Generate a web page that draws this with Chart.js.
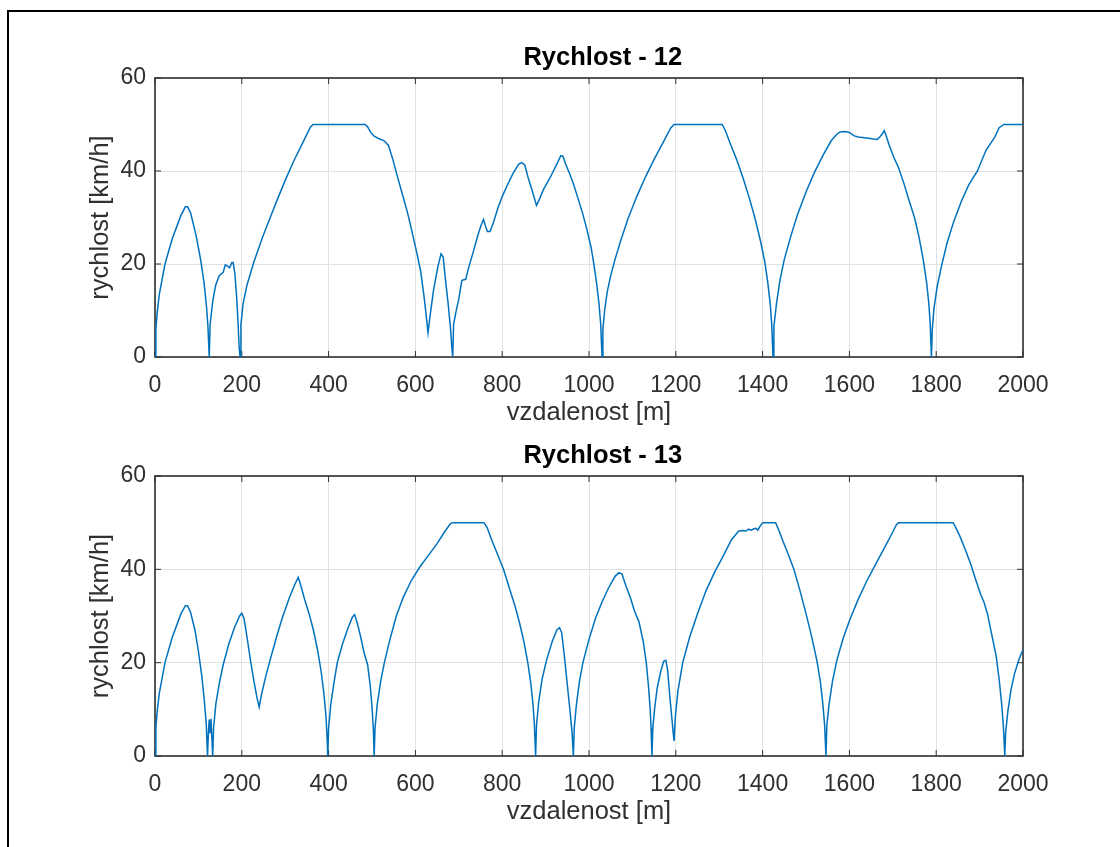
<!DOCTYPE html>
<html>
<head>
<meta charset="utf-8">
<title>Rychlost</title>
<script src="https://cdn.jsdelivr.net/npm/chart.js@4.4.1/dist/chart.umd.min.js"></script>
<style>
  html, body { margin: 0; padding: 0; background: #fff; }
  #page { position: relative; width: 1120px; height: 847px; overflow: hidden; background: #fff; }
  #frame { position: absolute; left: 7px; top: 10px; right: -10px; bottom: -10px; border-left: 2px solid #000; border-top: 2px solid #000; }
  canvas { position: absolute; left: 0; }
  #c12 { top: 0; }
  #c13 { top: 420px; }
</style>
</head>
<body>
<div id="page">
  <div id="frame"></div>
  <canvas id="c12" width="1120" height="440"></canvas>
  <canvas id="c13" width="1120" height="427"></canvas>
</div>
<script>
// rychlost vs. vzdalenost - dva grafy pod sebou
const xTicks = [0, 200, 400, 600, 800, 1000, 1200, 1400, 1600, 1800, 2000];
const yTicks = [0, 20, 40, 60];

const dist12 = [
  0, 2, 5, 10, 23, 40, 60, 70, 75, 82, 95, 105, 113, 119, 122, 125,
  127, 133, 140, 148, 157, 162, 168, 172, 177, 180, 184, 188, 191, 194, 196,
  198, 203, 212, 228, 248, 268, 285, 301, 320, 340, 358, 364, 484, 490, 497, 505, 515, 528, 538, 548,
  558, 570, 582, 592, 603, 612, 620, 626, 629, 634, 642, 652, 659, 664, 670, 676, 681, 684, 686,
  688, 693, 700, 707, 716, 722, 733, 745, 752, 757, 762, 766, 772, 780, 790, 800, 812, 825, 838, 845,
  852, 860, 870, 879, 885, 895, 910, 925, 935, 940, 946, 955, 965, 975, 985, 995, 1005, 1012, 1018, 1023, 1027, 1030,
  1032, 1036, 1042, 1050, 1060, 1073, 1090, 1110, 1130, 1150, 1170, 1188, 1196, 1307, 1315,
  1325, 1340, 1355, 1370, 1382, 1395, 1405, 1412, 1418, 1421, 1424,
  1426, 1432, 1440, 1450, 1465, 1480, 1500, 1520, 1540, 1558, 1570, 1578, 1590, 1600, 1610,
  1620, 1640, 1655, 1664, 1670, 1676, 1680, 1684, 1692, 1702, 1712, 1725, 1738, 1750, 1760,
  1770, 1778, 1783, 1786, 1789,
  1791, 1795, 1802, 1812, 1825, 1840, 1858, 1875, 1895, 1915, 1935, 1945, 1956, 2000
];
const speed12 = [
  0, 6, 9.5, 13.5, 20, 25.5, 30.5, 32.3, 32.3, 31, 26, 21, 16, 10.5, 6.5, 0,
  7, 12, 15.5, 17.5, 18.2, 19.8, 19.5, 19.2, 20.3, 20.3, 18, 13, 8, 2, 0,
  7, 11.5, 15.5, 20.5, 25.8, 30.6, 34.6, 38.2, 42.2, 46, 49.4, 50, 50, 49.5, 48.3, 47.5, 47, 46.5, 45.5, 42.5,
  39, 35, 31, 27, 22.5, 18.5, 13, 8, 5.2, 9, 14.5, 19.5, 22.2, 21.5, 16, 11, 6, 2, 0,
  7, 9.5, 12.5, 16.5, 16.7, 19, 22.5, 26.5, 28.5, 29.6, 28, 27, 27, 29, 32, 34.5, 37, 39.5, 41.5, 41.8,
  41.3, 38.5, 35.5, 32.6, 33.8, 36, 38.5, 41.3, 43.3, 43.2, 41.5, 39.5, 37, 34, 31, 27.5, 23.5, 19.5, 15.5, 11.5, 7, 0,
  6, 10, 14, 17.5, 21, 25, 29.8, 34.5, 38.7, 42.5, 46, 49.2, 50, 50, 48.5,
  46, 42.5, 38.5, 34, 30, 25, 20.5, 16, 11, 7, 0,
  6.5, 11.5, 16.5, 21, 26, 30.5, 35.5, 39.8, 43.5, 46.5, 47.8, 48.4, 48.5, 48.3, 47.6,
  47.3, 47.1, 46.9, 46.8, 47.3, 48, 48.7, 47.8, 45.5, 43, 41, 37.5, 33.5, 30, 26,
  21, 16, 11.5, 7.5, 0,
  6, 10.5, 15, 19.5, 24.5, 29, 33.5, 37, 40, 44.5, 47.3, 49.3, 50, 50
];

const dist13 = [
  0, 2, 5, 10, 23, 40, 60, 70, 75, 82, 92, 100, 108, 114, 118, 121, 123, 125, 127, 129, 131, 133,
  135, 140, 148, 157, 170, 183, 195, 200, 205, 212, 220, 228, 235, 240, 245,
  255, 265, 280, 293, 310, 322, 330, 336, 345, 355, 365, 375, 383, 389, 394, 397, 398,
  400, 405, 412, 420, 432, 445, 455, 460, 466, 474, 482, 490, 496, 500, 503, 505,
  507, 512, 520, 528, 540, 556, 572, 590, 610, 630, 650, 667, 680, 685, 758,
  765, 775, 788, 803, 818, 830, 840, 850, 859, 866, 871, 874, 877,
  879, 884, 892, 902, 915, 926, 932, 937, 942, 947, 952, 957, 961, 964,
  966, 971, 978, 986, 1000, 1015, 1030, 1045, 1060, 1069, 1076, 1085, 1095, 1105, 1115,
  1125, 1132, 1137, 1141, 1143, 1145,
  1147, 1151, 1157, 1165, 1172, 1177, 1181, 1186, 1190, 1194, 1196, 1199, 1205, 1216, 1232,
  1250, 1270, 1290, 1310, 1328, 1345, 1355, 1362, 1368, 1374, 1380, 1385, 1389, 1394, 1400,
  1430, 1437, 1447, 1460, 1472, 1486, 1500, 1512, 1525, 1533, 1539, 1543, 1546,
  1548, 1553, 1561, 1571, 1585, 1600, 1620, 1640, 1660, 1680, 1700, 1708, 1713, 1839, 1845,
  1855, 1868, 1880, 1892, 1903, 1910, 1918, 1928, 1938, 1945, 1951, 1955, 1958,
  1960, 1965, 1972, 1980, 1990, 2000
];
const speed13 = [
  0, 6, 9.5, 13.5, 20, 25.5, 30.5, 32.2, 32.2, 30.8, 27, 22.5, 17, 11.5, 7, 0, 5, 7.8, 5, 8, 4, 0,
  6, 11, 15.5, 19.5, 24, 27.5, 30, 30.6, 29.5, 25.5, 20.5, 16, 12.5, 10.5, 13,
  17, 20.5, 25.5, 29.5, 34, 36.7, 38.3, 36.5, 33.5, 30.5, 27, 22.5, 18, 13.5, 8.5, 3, 0,
  6, 11, 15.5, 20, 24, 27.5, 29.8, 30.3, 28.5, 25.5, 22, 19.5, 15, 10.5, 6, 0,
  6, 11, 16, 19.8, 24.5, 30, 34, 37.5, 40.5, 43, 45.5, 48, 49.7, 50, 50,
  49, 46.5, 43.5, 40, 35.5, 32, 28.5, 24.5, 20, 15.5, 11, 7, 0,
  6.5, 11.5, 16.5, 20.5, 24.5, 27, 27.5, 26.5, 22.5, 18, 13.5, 9, 5, 0,
  6, 11, 16, 20, 25, 29.5, 33, 36, 38.5, 39.3, 39, 36.5, 34, 31, 28.8,
  24.5, 20, 15, 10, 6, 0,
  6, 10, 14.5, 18, 20.3, 20.5, 18.5, 13, 9, 5, 3.2, 8.5, 14, 20, 25.5,
  30.5, 35.5, 39.5, 43, 46.3, 48.2, 48.3, 48.2, 48.6, 48.4, 48.7, 48.8, 48.4, 49.2, 50,
  50, 48.5, 46, 43, 40, 35.5, 30.5, 26, 20.5, 16, 11, 6.5, 0,
  6.5, 11, 16, 20.5, 25, 29, 33.5, 37.5, 41, 44.5, 48, 49.5, 50, 50, 49,
  47, 44, 41, 37.5, 34.5, 33, 30.5, 26, 21.5, 16.5, 11, 6, 0,
  5, 9.5, 14, 17.5, 20.5, 22.8
];

const FONT = '"Liberation Sans", Arial, Helvetica, sans-serif';
const AXIS_COLOR = '#303030';
const LINE_COLOR = '#0072BD';
const GRID_COLOR = '#e1e1e1';

// ramecek + tiky dovnitr jako v matlabu
const boxPlugin = {
  id: 'matlabBox',
  beforeDatasetsDraw(chart) {
    const { ctx, chartArea: a, scales: { x, y } } = chart;
    const tl = 6;
    ctx.save();
    ctx.strokeStyle = AXIS_COLOR;
    ctx.lineWidth = 1;
    ctx.beginPath();
    xTicks.forEach(v => {
      const px = x.getPixelForValue(v);
      ctx.moveTo(px, a.bottom); ctx.lineTo(px, a.bottom - tl);
      ctx.moveTo(px, a.top); ctx.lineTo(px, a.top + tl);
    });
    yTicks.forEach(v => {
      const py = y.getPixelForValue(v);
      ctx.moveTo(a.left, py); ctx.lineTo(a.left + tl, py);
      ctx.moveTo(a.right, py); ctx.lineTo(a.right - tl, py);
    });
    ctx.stroke();
    ctx.lineWidth = 1.6;
    ctx.strokeRect(a.left, a.top, a.right - a.left, a.bottom - a.top);
    ctx.restore();
  }
};

function makeChart(id, dist, speed, title, plotTop, plotBottom) {
  const canvas = document.getElementById(id);
  const h = canvas.height;
  const points = dist.map((d, i) => ({ x: d, y: speed[i] }));
  const xAxisH = 76.4;

  return new Chart(canvas.getContext('2d'), {
    type: 'scatter',
    data: {
      datasets: [{
        data: points,
        showLine: true,
        borderColor: LINE_COLOR,
        borderWidth: 1.5,
        pointRadius: 0,
        pointHoverRadius: 0,
        tension: 0,
        fill: false
      }]
    },
    options: {
      responsive: false,
      animation: false,
      events: [],
      layout: {
        padding: { left: 85.6, right: 0, top: plotTop - 35.3, bottom: h - plotBottom - xAxisH }
      },
      plugins: {
        legend: { display: false },
        tooltip: { enabled: false },
        title: {
          display: true,
          text: title,
          color: '#000',
          font: { family: FONT, size: 25.5, weight: 'bold', lineHeight: 1.2 },
          padding: { top: 0, bottom: 4.7 }
        }
      },
      scales: {
        x: {
          type: 'linear',
          min: 0,
          max: 2000,
          afterBuildTicks: s => { s.ticks = xTicks.map(v => ({ value: v })); },
          afterFit: s => { s.height = xAxisH; },
          border: { display: false },
          grid: { color: GRID_COLOR, lineWidth: 1, drawTicks: false },
          ticks: { color: AXIS_COLOR, padding: 15, maxRotation: 0, autoSkip: false,
                   callback: v => String(v),
                   font: { family: FONT, size: 23 } },
          title: { display: true, text: 'vzdalenost [m]', color: AXIS_COLOR,
                   padding: { top: 0, bottom: 5 },
                   font: { family: FONT, size: 25.5, lineHeight: 1.2 } }
        },
        y: {
          type: 'linear',
          position: 'left',
          min: 0,
          max: 60,
          afterBuildTicks: s => { s.ticks = yTicks.map(v => ({ value: v })); },
          afterFit: s => { s.width = 155 - 85.6; },
          border: { display: false },
          grid: { color: GRID_COLOR, lineWidth: 1, drawTicks: false },
          ticks: { color: AXIS_COLOR, padding: 9, callback: v => String(v),
                   font: { family: FONT, size: 23 } },
          title: { display: true, text: 'rychlost [km/h]', color: AXIS_COLOR, padding: 0,
                   font: { family: FONT, size: 25.5, lineHeight: 1.2 } }
        },
        y2: {
          type: 'linear',
          position: 'right',
          min: 0,
          max: 60,
          afterFit: s => { s.width = 1120 - 1023; },
          border: { display: false },
          grid: { display: false },
          ticks: { display: false }
        }
      }
    },
    plugins: [boxPlugin]
  });
}

makeChart('c12', dist12, speed12, 'Rychlost - 12', 78, 357);
makeChart('c13', dist13, speed13, 'Rychlost - 13', 56, 336);
</script>
</body>
</html>
